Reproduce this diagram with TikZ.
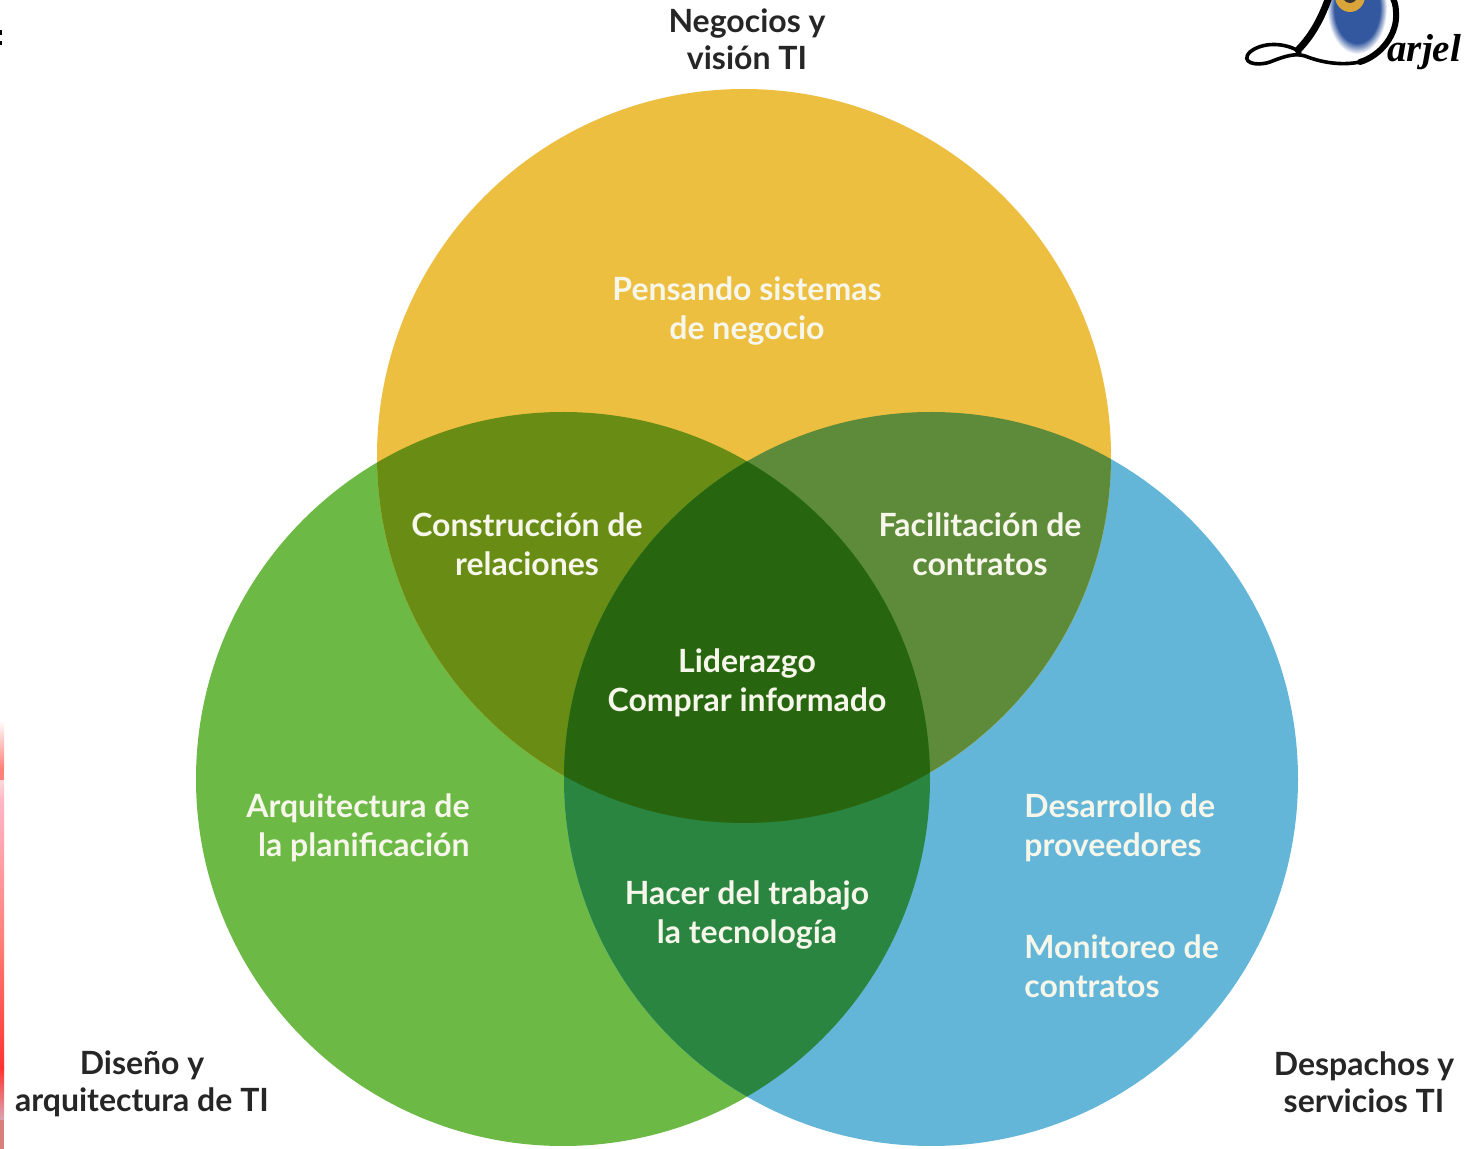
\documentclass[tikz,border=0pt]{standalone}
\usepackage{fontspec}
\setmainfont{Lato}
\newfontfamily\logofont{Liberation Serif}
\usetikzlibrary{calc}
\definecolor{amarillo}{HTML}{EDBF41}
\definecolor{verde}{HTML}{6CB945}
\definecolor{azul}{HTML}{63B6D8}
\definecolor{verdeamarillo}{HTML}{688C14}
\definecolor{azulamarillo}{HTML}{5E8B3A}
\definecolor{verdeazul}{HTML}{2A8540}
\definecolor{centro}{HTML}{27660F}
\definecolor{claro}{HTML}{F6F6EA}
\definecolor{oscuro}{HTML}{262626}
\definecolor{plumaje}{HTML}{33589F}
\definecolor{anillo}{HTML}{D9A53A}
\definecolor{rosa}{HTML}{FFB6C8}
\definecolor{coral}{HTML}{FF8078}
\pgfdeclareradialshading{ojo}{\pgfpointorigin}{color(0bp)=(plumaje); color(19bp)=(plumaje); color(25bp)=(white)}
\tikzset{
    dentro/.style={inner sep=0pt, text=claro, font=\fontsize{16}{19.5}\selectfont\bfseries},
    fuera/.style={inner sep=0pt, text=oscuro, font=\fontsize{16}{18.5}\selectfont\bfseries},
    pluma/.style={draw=black, line cap=round, fill=none}
}
\newcommand{\rad}{367}
\begin{document}
\begin{tikzpicture}[x=0.5pt, y=-0.5pt]
    \useasboundingbox (0,0) rectangle (1464,1149);
    \clip (0,0) rectangle (1464,1149);
    \fill[white] (0,0) rectangle (1464,1149);
    \coordinate (N) at (744,456);
    \coordinate (D) at (563,779);
    \coordinate (S) at (931,779);
    % circulos
    \fill[verde] (D) circle[x radius=\rad, y radius=\rad];
    \fill[azul] (S) circle[x radius=\rad, y radius=\rad];
    \fill[amarillo] (N) circle[x radius=\rad, y radius=\rad];
    % cruces
    \begin{scope}
        \clip (N) circle[x radius=\rad, y radius=\rad];
        \fill[verdeamarillo] (D) circle[x radius=\rad, y radius=\rad];
        \fill[azulamarillo] (S) circle[x radius=\rad, y radius=\rad];
    \end{scope}
    \begin{scope}
        \clip (D) circle[x radius=\rad, y radius=\rad];
        \fill[verdeazul] (S) circle[x radius=\rad, y radius=\rad];
        \clip (S) circle[x radius=\rad, y radius=\rad];
        \fill[centro] (N) circle[x radius=\rad, y radius=\rad];
    \end{scope}
    % textos
    \node[fuera, align=center] (negocios) at (747,39) {Negocios y\\visión TI};
    \node[fuera, align=center] (diseno) at (142,1084) {Diseño y\\arquitectura de TI};
    \node[fuera, align=center] (despachos) at (1364,1082) {Despachos y\\servicios TI};
    \node[dentro, align=center] (pensando) at (747,311) {Pensando sistemas\\de negocio};
    \node[dentro, align=center] (construccion) at (527,544) {Construcción de\\relaciones};
    \node[dentro, align=center] (facilitacion) at (980,544) {Facilitación de\\contratos};
    \node[dentro, align=center] (liderazgo) at (747,683) {Liderazgo\\Comprar informado};
    \node[dentro, align=center] (hacer) at (747,915) {Hacer del trabajo\\la tecnología};
    \node[dentro, align=right, anchor=east] (arquitectura) at (470,828) {Arquitectura de\\la planificación};
    \node[dentro, align=left, anchor=west] (desarrollo) at (1024,828) {Desarrollo de\\proveedores};
    \node[dentro, align=left, anchor=west] (monitoreo) at (1024,966) {Monitoreo de\\contratos};
    % logo
    \shade[shading=ojo] (1357,8) ellipse[x radius=30, y radius=46];
    \fill[anillo] (1350,-4) ellipse[x radius=15, y radius=16];
    \fill[black!80] (1350,-6) ellipse[x radius=8, y radius=9];
    \draw[pluma, line width=3.5pt] (1330,-6) .. controls (1323,15) and (1313,35) .. (1298,50);
    \draw[pluma, line width=1.8pt] (1300,52) .. controls (1285,42) and (1262,42) .. (1250,52)
        .. controls (1240,62) and (1255,67) .. (1270,62)
        .. controls (1285,56) and (1295,53) .. (1305,56)
        .. controls (1320,62) and (1340,66) .. (1360,62);
    \draw[pluma, line width=3pt] (1360,62) .. controls (1380,56) and (1398,35) .. (1396,12)
        .. controls (1396,5) and (1394,0) .. (1391,-6);
    \node[inner sep=0pt, anchor=base west, font=\logofont\bfseries\itshape\fontsize{19.5}{19.5}\selectfont] (arjel) at (1387,62) {arjel};
    % restos del borde
    \fill[black] (0,30) rectangle (2,35);
    \fill[black] (0,41) rectangle (2,45);
    \shade[top color=white, bottom color=coral] (0,720) rectangle (4,769);
    \fill[coral] (0,769) rectangle (4,781);
    \shade[top color=coral!30, bottom color=rosa] (0,781) rectangle (4,800);
    \shade[top color=rosa, bottom color=coral] (0,800) rectangle (4,940);
    \shade[top color=coral, bottom color=red!60!coral] (0,940) rectangle (4,1068);
    \shade[top color=red!60!coral, bottom color=rosa!70!gray] (0,1068) rectangle (4,1120);
    \fill[coral!70!gray] (0,1120) rectangle (4,1149);
\end{tikzpicture}
\end{document}
